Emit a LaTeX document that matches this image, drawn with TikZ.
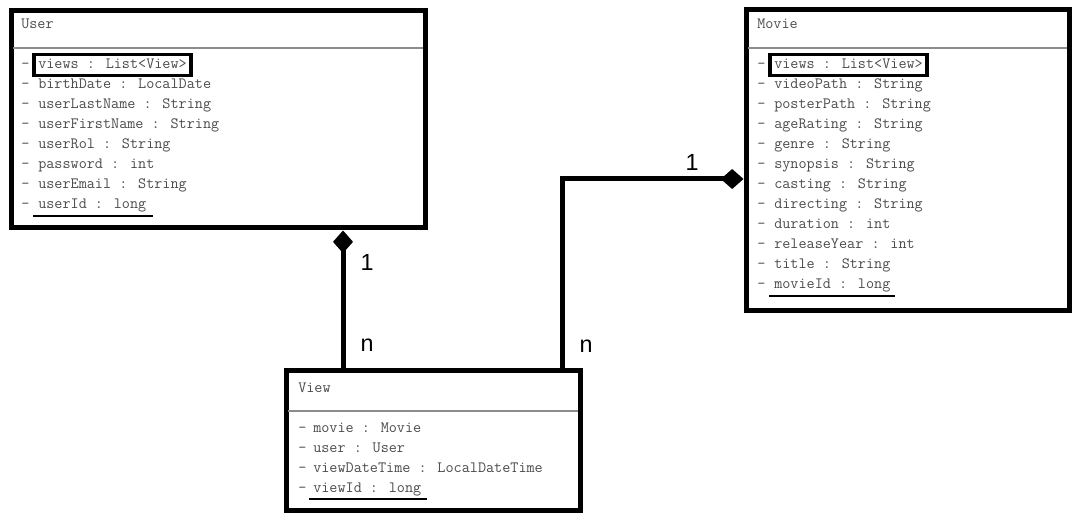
\documentclass[tikz,border=0pt]{standalone}
\usepackage{fontspec}
\setmainfont{Liberation Sans}
\setsansfont{Liberation Sans}
\usetikzlibrary{arrows.meta,positioning,fit,calc}
\definecolor{txtgray}{RGB}{75,75,75}
\definecolor{sepgray}{RGB}{140,140,140}
\tikzset{
  classbox/.style={draw,line width=3.75pt,inner sep=0pt},
  ctitle/.style={anchor=west,inner sep=0pt,text=txtgray,font=\ttfamily\fontsize{11.8}{13}\selectfont},
  attr/.style={anchor=west,inner sep=0pt,text height=8pt,text depth=2pt,text=txtgray,font=\ttfamily\fontsize{11.8}{13}\selectfont},
  keybox/.style={draw,line width=2.4pt,inner xsep=3pt,inner ysep=2.6pt},
  idline/.style={line width=2.2pt},
  sepline/.style={sepgray,line width=1.5pt},
}

\begin{document}
\begin{tikzpicture}[x=0.75pt,y=-0.75pt,
    comp/.style={line width=3.75pt,-{Diamond[length=17pt,width=15pt]}},
    mult/.style={font=\sffamily\fontsize{17.5}{20}\selectfont,inner sep=0pt},
  ]
    \useasboundingbox (0,0) rectangle (1079,520);

    %────────── USER ───────────────
    \node[classbox,fit={(11,11) (425,228)}] (user) {};
    \node[ctitle] (usertitle) at (21,24) {User};
    \draw[sepline] (13,48) -- (423,48);
    \foreach \a [count=\i] in {views : List<View>, birthDate : LocalDate, userLastName : String, userFirstName : String, userRol : String, password : int, userEmail : String, userId : long}
      { \node[attr] (user-a\i) at (38,45+20*\i) {\a};
        \node[attr] at (21,45+20*\i) {-}; }
    \node[keybox,fit=(user-a1)] (userkey) {};
    \draw[idline] ($(user-a8.west)+(-5,11)$) -- ($(user-a8.east)+(6,11)$);

    %────────── MOVIE ──────────────
    \node[classbox,fit={(746,10) (1069,311)}] (movie) {};
    \node[ctitle] (movietitle) at (757,24) {Movie};
    \draw[sepline] (748,48) -- (1067,48);
    \foreach \a [count=\i] in {views : List<View>, videoPath : String, posterPath : String, ageRating : String, genre : String, synopsis : String, casting : String, directing : String, duration : int, releaseYear : int, title : String, movieId : long}
      { \node[attr] (movie-a\i) at (774,45+20*\i) {\a};
        \node[attr] at (757,45+20*\i) {-}; }
    \node[keybox,fit=(movie-a1)] (moviekey) {};
    \draw[idline] ($(movie-a12.west)+(-5,11)$) -- ($(movie-a12.east)+(4,11)$);

    %────────── VIEW ───────────────
    \node[classbox,fit={(286,371) (580,510)}] (view) {};
    \node[ctitle] (viewtitle) at (298,388) {View};
    \draw[sepline] (288,411) -- (578,411);
    \foreach \a [count=\i] in {movie : Movie, user : User, viewDateTime : LocalDateTime, viewId : long}
      { \node[attr] (view-a\i) at (313,409+20*\i) {\a};
        \node[attr] at (298,409+20*\i) {-}; }
    \draw[idline] ($(view-a4.west)+(-4,10)$) -- ($(view-a4.east)+(5,10)$);

    %────────── ASSOCIATIONS ───────
    \coordinate (uvbend) at (343,0);
    \draw[comp] (uvbend |- view.north) -- (uvbend |- user.south);
    \node[mult] (uv1) at (367,262) {1};
    \node[mult] (uvn) at (367,345) {n};

    \coordinate (vmbend) at (562,179);
    \draw[comp] (vmbend |- view.north) -- (vmbend) -- (vmbend -| movie.west);
    \node[mult] (vm1) at (692,162) {1};
    \node[mult] (vmn) at (586,346) {n};
  \end{tikzpicture}
\end{document}
